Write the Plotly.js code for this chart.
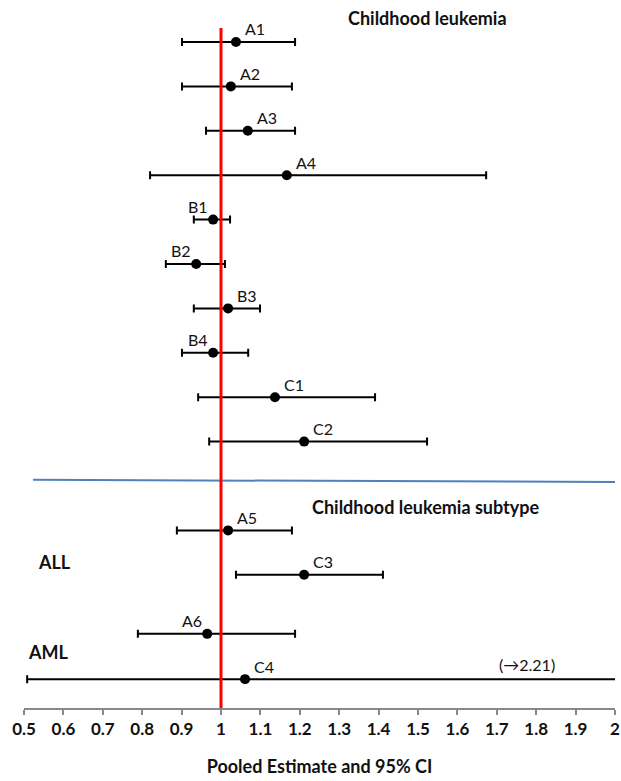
<!DOCTYPE html>
<html>
<head>
<meta charset="utf-8">
<script src="https://cdn.plot.ly/plotly-3.0.1.min.js"></script>
<style>html,body{margin:0;padding:0;background:#fff;}#chart{width:621px;height:781px;}</style>
</head>
<body>
<div id="chart"></div>
<script>
// ---- data ----
const labels    = ['A1','A2','A3','A4','B1','B2','B3','B4','C1','C2','A5','C3','A6','C4'];
const estimates = [1.038,1.025,1.068,1.167,0.980,0.937,1.018,0.980,1.137,1.211,1.018,1.211,0.965,1.061];
const lower     = [0.901,0.901,0.962,0.820,0.931,0.860,0.931,0.901,0.942,0.970,0.888,1.038,0.789,0.508];
const upper     = [1.188,1.180,1.188,1.673,1.023,1.010,1.099,1.069,1.391,1.523,1.180,1.411,1.188,2.210];
const rowIndex  = [0,1,2,3,4,5,6,7,8,9,11,12,13.33,14.35];
const labelSide = ['r','r','r','r','l','l','r','l','r','r','r','r','l','r'];
const sectionTitles = ['Childhood leukemia','Childhood leukemia subtype'];
const subtypeLabels = ['ALL','AML'];
const truncNote = '(\u21922.21)';

const FONT = 'Lato, "Open Sans", sans-serif';

const trace = {
  type: 'scatter', mode: 'markers',
  x: estimates, y: rowIndex,
  marker: {color: '#000', size: 10},
  error_x: {
    type: 'data', symmetric: false,
    array: upper.map((u,i)=>u-estimates[i]),
    arrayminus: lower.map((l,i)=>estimates[i]-l),
    color: '#000', thickness: 2, width: 4
  },
  hoverinfo: 'skip', showlegend: false
};

const annotations = labels.map((t,i)=>({
  x: estimates[i], y: rowIndex[i], xref:'x', yref:'y', text: t, showarrow:false,
  xshift: labelSide[i]==='r' ? 19 : -15, yshift: 13,
  font:{family:FONT, size:16, color:'#111'}
}));
annotations.push(
  {x:1.523, y:1.0147, xref:'x', yref:'paper', yanchor:'middle', text:sectionTitles[0], showarrow:false,
   font:{family:FONT, size:18, color:'#111', weight:'bold'}},
  {x:1.520, y:10.47, xref:'x', yref:'y', text:sectionTitles[1], showarrow:false,
   font:{family:FONT, size:18, color:'#111', weight:'bold'}},
  {x:0.530, y:11.71, xref:'x', yref:'y', text:subtypeLabels[0], showarrow:false, xanchor:'left',
   font:{family:FONT, size:18, color:'#111', weight:'bold'}},
  {x:0.505, y:13.74, xref:'x', yref:'y', text:subtypeLabels[1], showarrow:false, xanchor:'left',
   font:{family:FONT, size:18, color:'#111', weight:'bold'}},
  {x:1.777, y:14.03, xref:'x', yref:'y', text:truncNote, showarrow:false,
   font:{family:FONT, size:16, color:'#111'}}
);

const layout = {
  width: 621, height: 781,
  margin: {l:24, r:6, t:28, b:73},
  paper_bgcolor:'#fff', plot_bgcolor:'#fff',
  font:{family:FONT, color:'#111'},
  xaxis: {
    range:[0.5,2], dtick:0.1, tick0:0.5,
    showgrid:false, zeroline:false,
    showline:true, linecolor:'#888', linewidth:2,
    ticks:'outside', ticklen:5, tickwidth:2, tickcolor:'#888',
    tickfont:{family:FONT, size:17, color:'#111', weight:'bold'},
    title:{text:'Pooled Estimate and 95% CI', font:{family:FONT, size:18, color:'#111', weight:'bold'}, standoff:22}
  },
  yaxis: {range:[15.0,-0.315], visible:false, showgrid:false, zeroline:false},
  shapes: [
    {type:'line', xref:'x', yref:'y', x0:0.523, x1:2.0, y0:9.86, y1:9.91,
     line:{color:'#4f81bd', width:2}},
    {type:'line', xref:'x', yref:'y domain', x0:1, x1:1, y0:0, y1:1,
     line:{color:'#ff0000', width:3}}
  ],
  annotations: annotations
};

Plotly.newPlot('chart', [trace], layout, {displayModeBar:false, staticPlot:true});
</script>
</body>
</html>
